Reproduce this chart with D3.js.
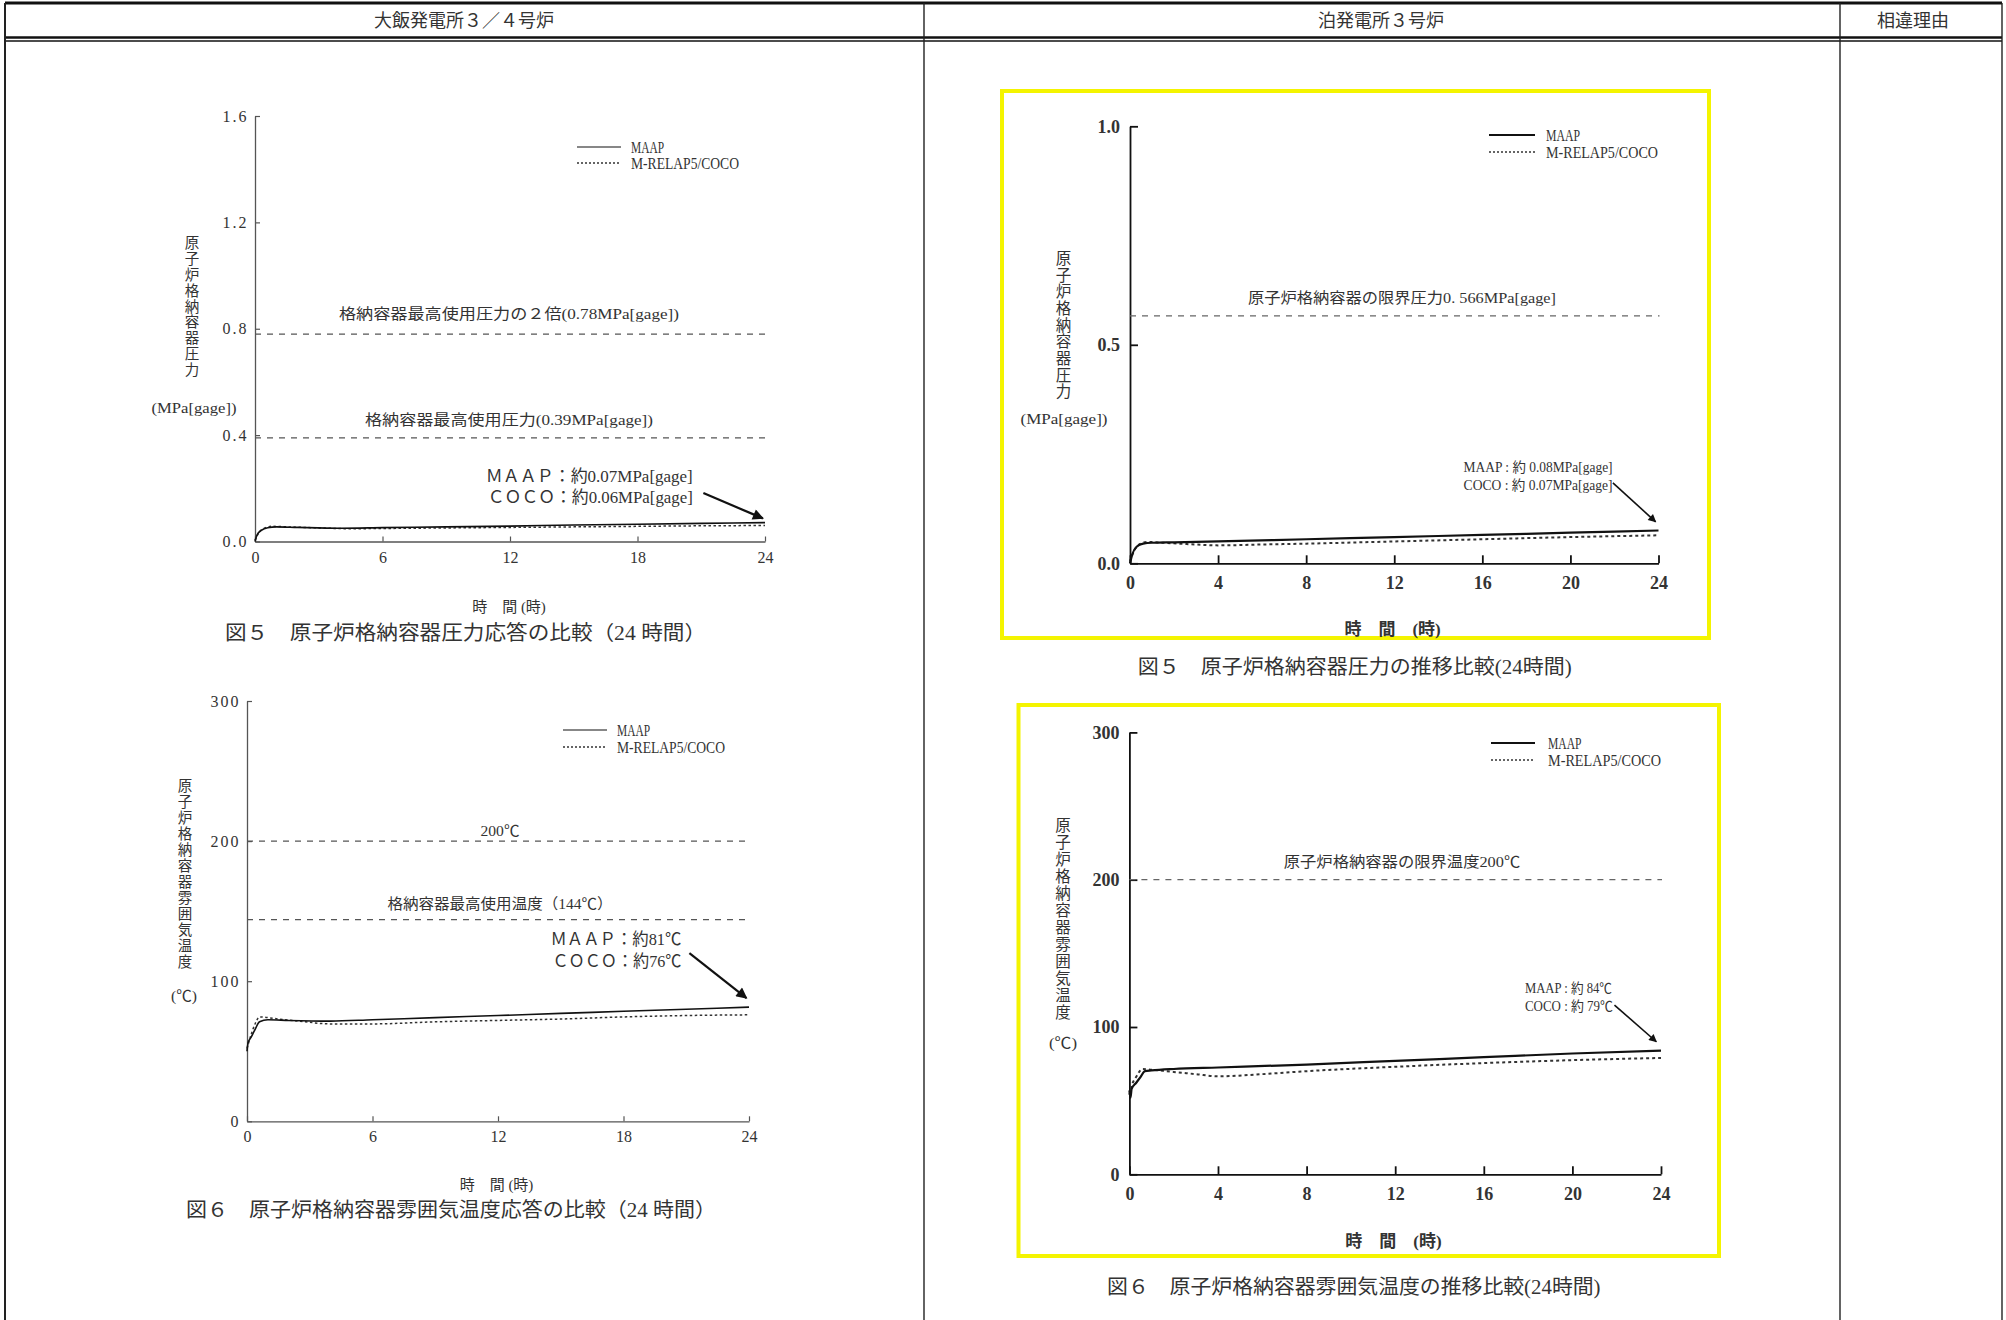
<!DOCTYPE html>
<html>
<head>
<meta charset="utf-8">
<script src="https://cdn.jsdelivr.net/npm/d3@7"></script>
<style>
  body { margin: 0; background: #fff; }
  text { font-family: "Liberation Serif", "Noto Sans CJK JP", serif; fill: #333; }
</style>
</head>
<body>
<div class="wrapper"></div>
<script>
// ---- data ----
var headers = ["大飯発電所３／４号炉", "泊発電所３号炉", "相違理由"];
var legendNames = ["MAAP", "M-RELAP5/COCO"];

var ohiHours = [0, 6, 12, 18, 24];
var tomariHours = [0, 4, 8, 12, 16, 20, 24];
var ohiPressureTicks = [0, 0.4, 0.8, 1.2, 1.6];
var tomariPressureTicks = [0, 0.5, 1.0];
var tempTicks = [0, 100, 200, 300];

// [hour, MPa gage]
var ohiPressureMAAP = [[0,0],[0.1,0.025],[0.3,0.042],[0.6,0.052],[1,0.055],[2,0.053],[4,0.05],[6,0.052],[9,0.055],[12,0.058],[15,0.062],[18,0.065],[21,0.068],[24,0.071]];
var ohiPressureCOCO = [[0,0.005],[0.2,0.035],[0.5,0.052],[0.8,0.057],[1.5,0.055],[3,0.051],[4.5,0.048],[6,0.049],[9,0.051],[12,0.053],[15,0.055],[18,0.057],[21,0.059],[24,0.06]];
// [hour, degC]
var ohiTempMAAP = [[0,50],[0.05,56],[0.2,60],[0.4,66],[0.6,71],[1,72.5],[2,72],[4,71.5],[6,72.5],[9,74],[12,75.5],[15,77],[18,78.5],[21,80],[24,81.5]];
var ohiTempCOCO = [[0,52],[0.2,62],[0.4,70],[0.6,74.5],[1,74],[1.5,73],[2.5,71.5],[4,69.5],[6,69.5],[9,71],[12,72],[15,73],[18,74.5],[21,75.5],[24,76]];
var tomariPressureMAAP = [[0,0],[0.1,0.02],[0.3,0.038],[0.6,0.045],[1,0.047],[2,0.048],[4,0.05],[8,0.055],[12,0.06],[16,0.065],[20,0.07],[24,0.075]];
var tomariPressureCOCO = [[0,0.005],[0.2,0.03],[0.5,0.045],[0.8,0.049],[1.5,0.047],[3,0.043],[4,0.041],[6,0.043],[8,0.045],[12,0.05],[16,0.055],[20,0.06],[24,0.064]];
var tomariTempMAAP = [[0,57],[0.05,52],[0.1,58],[0.3,62],[0.5,66],[0.7,70],[1,70.5],[2,71.5],[4,72.5],[8,74.5],[12,77],[16,79.5],[20,82],[24,84]];
var tomariTempCOCO = [[0,54],[0.1,60],[0.3,66],[0.6,71.5],[1,71],[2,69.5],[3,68],[4,66.5],[6,68],[8,70],[12,73],[16,75.5],[20,77.5],[24,79]];

var ohiPressureLimits = [0.78, 0.39];
var ohiPressureLimitLabels = ["格納容器最高使用圧力の２倍(0.78MPa[gage])", "格納容器最高使用圧力(0.39MPa[gage])"];
var ohiTempLimits = [200, 144];
var ohiTempLimitLabels = ["200℃", "格納容器最高使用温度（144℃）"];
var tomariPressureLimits = [0.566];
var tomariPressureLimitLabels = ["原子炉格納容器の限界圧力0. 566MPa[gage]"];
var tomariTempLimits = [200];
var tomariTempLimitLabels = ["原子炉格納容器の限界温度200℃"];

var ohiPressureNotes = ["ＭＡＡＰ：約0.07MPa[gage]", "ＣＯＣＯ：約0.06MPa[gage]"];
var ohiTempNotes = ["ＭＡＡＰ：約81℃", "ＣＯＣＯ：約76℃"];
var tomariPressureNotes = ["MAAP : 約 0.08MPa[gage]", "COCO : 約 0.07MPa[gage]"];
var tomariTempNotes = ["MAAP : 約 84℃", "COCO : 約 79℃"];

// ---- page ----
var svg = d3.select(".wrapper").append("svg")
    .attr("width", 2006)
    .attr("height", 1320)
    .style("display", "block");

svg.append("defs").append("marker")
    .attr("id", "arrowhead")
    .attr("viewBox", "0 0 10 10")
    .attr("refX", 9).attr("refY", 5)
    .attr("markerWidth", 6).attr("markerHeight", 5)
    .attr("orient", "auto")
    .append("path")
    .attr("d", "M0,0L10,5L0,10z")
    .attr("fill", "#111");

// table frame
var table = svg.append("g");
var colX = [5, 924, 1840, 2002];
table.append("line").attr("x1", 5).attr("x2", 2002).attr("y1", 3).attr("y2", 3)
    .attr("stroke", "#111").attr("stroke-width", 3);
table.append("line").attr("x1", 5).attr("x2", 2002).attr("y1", 37.5).attr("y2", 37.5)
    .attr("stroke", "#111").attr("stroke-width", 2.5);
table.append("line").attr("x1", 5).attr("x2", 2002).attr("y1", 41).attr("y2", 41)
    .attr("stroke", "#111").attr("stroke-width", 1.4);
table.selectAll("line.col")
    .data(colX)
  .enter().append("line")
    .attr("class", "col")
    .attr("x1", function(d) { return d; })
    .attr("x2", function(d) { return d; })
    .attr("y1", 3).attr("y2", 1320)
    .attr("stroke", "#222")
    .attr("stroke-width", function(d, i) { return i == 0 ? 2 : 1.4; });
var headerX = [464, 1381, 1913];
table.selectAll("text.head")
    .data(headers)
  .enter().append("text")
    .attr("class", "head")
    .attr("x", function(d, i) { return headerX[i]; })
    .attr("y", 21)
    .attr("text-anchor", "middle")
    .attr("dominant-baseline", "central")
    .style("font-size", "18px")
    .text(function(d) { return d; });

// layout of each chart (pixels), data referenced from the arrays above
var charts = [
  { left: 255, right: 765, bottom: 541.5, top: 116, yMax: 1.6, yTicks: ohiPressureTicks, yFmt: d3.format(".1f"),
    xTicks: ohiHours, maap: ohiPressureMAAP, coco: ohiPressureCOCO, bold: false, tickPadX: 10,
    limits: ohiPressureLimits, limitLabels: ohiPressureLimitLabels, limitDy: [20, 18], limitW: [340, 288], limitX: 509,
    legX: 577, legY: [147, 163], legLen: 44, legTextX: 631, legW: [33, 108],
    yTitle: "原子炉格納容器圧力", yTitleX: 192, yTitleTop: 235, yTitlePitch: 15.9, yTitleSize: 14.5,
    unit: "(MPa[gage])", unitX: 194, unitY: 408, unitW: 85,
    notes: ohiPressureNotes, noteAnchor: "end", noteT: 20.6, noteV: [0.243, 0.164], noteW: [207, 205], noteSize: 17,
    arrow: [[21.1, 0.182], [23.9, 0.087]],
    xTitle: "時　間 (時)", xTitleX: 509, xTitleY: 607,
    caption: "図５　原子炉格納容器圧力応答の比較（24 時間）", capX: 465.5, capY: 633, capW: 481 },
  { left: 247, right: 749, bottom: 1121.3, top: 701, yMax: 300, yTicks: tempTicks, yFmt: d3.format("d"),
    xTicks: ohiHours, maap: ohiTempMAAP, coco: ohiTempCOCO, bold: false, tickPadX: 9,
    limits: ohiTempLimits, limitLabels: ohiTempLimitLabels, limitDy: [10, 16], limitW: [39, 225], limitX: 500,
    legX: 563, legY: [730, 747], legLen: 44, legTextX: 617, legW: [33, 108],
    yTitle: "原子炉格納容器雰囲気温度", yTitleX: 185, yTitleTop: 778, yTitlePitch: 16, yTitleSize: 14.5,
    unit: "(℃)", unitX: 184, unitY: 996, unitW: 26,
    notes: ohiTempNotes, noteAnchor: "end", noteT: 20.77, noteV: [130, 113.8], noteW: [131, 129], noteSize: 17,
    arrow: [[21.15, 120], [23.88, 88]],
    xTitle: "時　間 (時)", xTitleX: 496.5, xTitleY: 1185,
    caption: "図６　原子炉格納容器雰囲気温度応答の比較（24 時間）", capX: 451, capY: 1210, capW: 530 },
  { left: 1130, right: 1658.5, bottom: 563.3, top: 126.3, yMax: 1.0, yTicks: tomariPressureTicks, yFmt: d3.format(".1f"),
    xTicks: tomariHours, maap: tomariPressureMAAP, coco: tomariPressureCOCO, bold: true, tickPadX: 13,
    limits: tomariPressureLimits, limitLabels: tomariPressureLimitLabels, limitDy: [18], limitW: [308], limitX: 1402,
    legX: 1489, legY: [135, 152], legLen: 46, legTextX: 1546, legW: [34, 112],
    yTitle: "原子炉格納容器圧力", yTitleX: 1063.4, yTitleTop: 250, yTitlePitch: 16.7, yTitleSize: 15.5,
    unit: "(MPa[gage])", unitX: 1064, unitY: 419, unitW: 87,
    notes: tomariPressureNotes, noteAnchor: "start", noteT: 15.15, noteV: [0.22, 0.177], noteW: [149, 149], noteSize: 14,
    arrow: [[21.93, 0.184], [23.87, 0.095]],
    xTitle: "時　間　(時)", xTitleX: 1392.6, xTitleY: 629,
    caption: "図５　原子炉格納容器圧力の推移比較(24時間)", capX: 1354.7, capY: 667, capW: 434,
    frame: [1002, 91, 707, 547] },
  { left: 1129.4, right: 1661, bottom: 1174.3, top: 732.4, yMax: 300, yTicks: tempTicks, yFmt: d3.format("d"),
    xTicks: tomariHours, maap: tomariTempMAAP, coco: tomariTempCOCO, bold: true, tickPadX: 12.5,
    limits: tomariTempLimits, limitLabels: tomariTempLimitLabels, limitDy: [17.4], limitW: [236.5], limitX: 1402,
    legX: 1491, legY: [743, 760], legLen: 44, legTextX: 1548, legW: [33.5, 113],
    yTitle: "原子炉格納容器雰囲気温度", yTitleX: 1063, yTitleTop: 816.7, yTitlePitch: 17, yTitleSize: 15.5,
    unit: "(℃)", unitX: 1063, unitY: 1043, unitW: 28,
    notes: tomariTempNotes, noteAnchor: "start", noteT: 17.86, noteV: [126.3, 113.8], noteW: [87, 88], noteSize: 14,
    arrow: [[21.9, 114.9], [23.79, 90]],
    xTitle: "時　間　(時)", xTitleX: 1393.4, xTitleY: 1241.7,
    caption: "図６　原子炉格納容器雰囲気温度の推移比較(24時間)", capX: 1353.8, capY: 1287, capW: 493.5,
    frame: [1018.5, 705, 700.5, 551] }
];

charts.forEach(drawChart);

function drawChart(c) {
  var g = svg.append("g");

  if (c.frame) {
    g.append("rect")
        .attr("x", c.frame[0]).attr("y", c.frame[1])
        .attr("width", c.frame[2]).attr("height", c.frame[3])
        .attr("fill", "none")
        .attr("stroke", "#f4f400")
        .attr("stroke-width", 4);
  }

  var x = d3.scaleLinear().domain([0, 24]).range([c.left, c.right]);
  var y = d3.scaleLinear().domain([0, c.yMax]).range([c.bottom, c.top]);

  var axisColor = c.bold ? "#111" : "#555";
  var tickLen = c.bold ? 8 : 5;

  var yAxis = g.append("g")
      .attr("transform", "translate(" + c.left + ",0)")
      .call(d3.axisLeft(y).tickValues(c.yTicks).tickFormat(c.yFmt)
          .tickSizeInner(-tickLen).tickSizeOuter(0).tickPadding(c.bold ? 10 : 6.5));
  var xAxis = g.append("g")
      .attr("transform", "translate(0," + c.bottom + ")")
      .call(d3.axisBottom(x).tickValues(c.xTicks).tickFormat(d3.format("d"))
          .tickSizeInner(-tickLen).tickSizeOuter(0).tickPadding(c.tickPadX));

  [yAxis, xAxis].forEach(function(a) {
    a.select(".domain").attr("stroke", axisColor).attr("stroke-width", c.bold ? 1.8 : 1.3);
    a.selectAll(".tick line").attr("stroke", axisColor).attr("stroke-width", c.bold ? 1.8 : 1.2);
    a.selectAll(".tick text")
        .attr("fill", c.bold ? "#111" : "#444")
        .style("font-family", "\"Liberation Serif\", serif")
        .style("font-size", c.bold ? "18px" : "16px")
        .style("font-weight", c.bold ? "bold" : "normal");
  });
  if (!c.bold) yAxis.selectAll(".tick text").style("letter-spacing", "2px");

  // limit lines
  g.selectAll("line.limit")
      .data(c.limits)
    .enter().append("line")
      .attr("class", "limit")
      .attr("x1", x(0)).attr("x2", x(24) + 1)
      .attr("y1", function(d) { return y(d); })
      .attr("y2", function(d) { return y(d); })
      .attr("stroke", c.bold ? "#666" : "#555")
      .attr("stroke-width", 1.2)
      .attr("stroke-dasharray", "6,6");
  g.selectAll("text.limit")
      .data(c.limits)
    .enter().append("text")
      .attr("class", "limit")
      .attr("x", c.limitX)
      .attr("y", function(d, i) { return y(d) - c.limitDy[i]; })
      .attr("text-anchor", "middle")
      .attr("dominant-baseline", "central")
      .attr("textLength", function(d, i) { return c.limitW[i]; })
      .attr("lengthAdjust", "spacingAndGlyphs")
      .style("font-size", "15px")
      .text(function(d, i) { return c.limitLabels[i]; });

  // series
  var line = d3.line()
      .x(function(d) { return x(d[0]); })
      .y(function(d) { return y(d[1]); })
      .curve(d3.curveMonotoneX);

  var styles = [
    { stroke: "#111", width: c.bold ? 2.2 : 1.6, dash: null },
    { stroke: "#333", width: c.bold ? 2 : 1.5, dash: c.bold ? "3,3" : "2.5,2.5" }
  ];

  g.append("path").datum(c.coco)
      .attr("d", line).attr("fill", "none")
      .attr("stroke", styles[1].stroke).attr("stroke-width", styles[1].width)
      .attr("stroke-dasharray", styles[1].dash);
  g.append("path").datum(c.maap)
      .attr("d", line).attr("fill", "none")
      .attr("stroke", styles[0].stroke).attr("stroke-width", styles[0].width);

  // legend
  legendNames.forEach(function(name, i) {
    g.append("line")
        .attr("x1", c.legX).attr("x2", c.legX + c.legLen)
        .attr("y1", c.legY[i]).attr("y2", c.legY[i])
        .attr("stroke", styles[i].stroke)
        .attr("stroke-width", i == 0 ? styles[0].width - 0.4 : 1.3)
        .attr("stroke-dasharray", i == 0 ? null : "2,2");
    g.append("text")
        .attr("x", c.legTextX).attr("y", c.legY[i])
        .attr("dominant-baseline", "central")
        .attr("textLength", c.legW[i])
        .attr("lengthAdjust", "spacingAndGlyphs")
        .style("font-size", "16px")
        .text(name);
  });

  // vertical y title, one character per row
  g.selectAll("text.ytitle")
      .data(Array.from(c.yTitle))
    .enter().append("text")
      .attr("class", "ytitle")
      .attr("x", c.yTitleX)
      .attr("y", function(d, i) { return c.yTitleTop + c.yTitlePitch * (i + 0.5); })
      .attr("text-anchor", "middle")
      .attr("dominant-baseline", "central")
      .style("font-size", c.yTitleSize + "px")
      .text(function(d) { return d; });
  g.append("text")
      .attr("x", c.unitX).attr("y", c.unitY)
      .attr("text-anchor", "middle")
      .attr("dominant-baseline", "central")
      .attr("textLength", c.unitW)
      .attr("lengthAdjust", "spacingAndGlyphs")
      .style("font-size", "15px")
      .text(c.unit);

  // end-value notes and arrow
  c.notes.forEach(function(note, i) {
    g.append("text")
        .attr("x", x(c.noteT)).attr("y", y(c.noteV[i]))
        .attr("text-anchor", c.noteAnchor)
        .attr("dominant-baseline", "central")
        .attr("textLength", c.noteW[i])
        .attr("lengthAdjust", "spacingAndGlyphs")
        .style("font-size", c.noteSize + "px")
        .text(note);
  });
  g.append("line")
      .attr("x1", x(c.arrow[0][0])).attr("y1", y(c.arrow[0][1]))
      .attr("x2", x(c.arrow[1][0])).attr("y2", y(c.arrow[1][1]))
      .attr("stroke", "#111")
      .attr("stroke-width", c.bold ? 1.6 : 2.2)
      .attr("marker-end", "url(#arrowhead)");

  // x title and caption
  g.append("text")
      .attr("x", c.xTitleX).attr("y", c.xTitleY)
      .attr("text-anchor", "middle")
      .attr("dominant-baseline", "central")
      .style("font-size", c.bold ? "17px" : "15px")
      .style("font-weight", c.bold ? "bold" : "normal")
      .attr("fill", c.bold ? "#111" : "#333")
      .text(c.xTitle);
  g.append("text")
      .attr("x", c.capX).attr("y", c.capY)
      .attr("text-anchor", "middle")
      .attr("dominant-baseline", "central")
      .attr("textLength", c.capW)
      .attr("lengthAdjust", "spacingAndGlyphs")
      .style("font-size", "20px")
      .text(c.caption);
}
</script>
</body>
</html>
